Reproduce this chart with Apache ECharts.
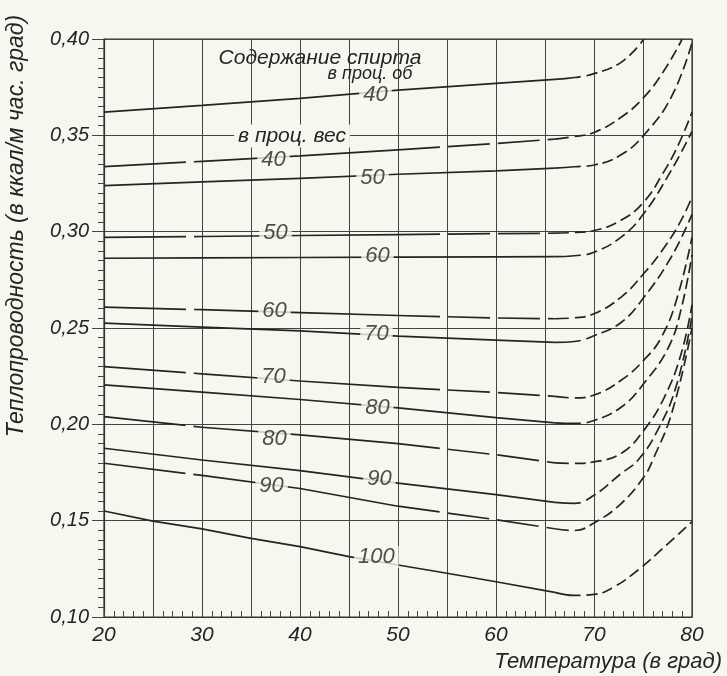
<!DOCTYPE html>
<html><head><meta charset="utf-8">
<script src="https://cdn.jsdelivr.net/npm/echarts@6/dist/echarts.min.js"></script>
<style>html,body{margin:0;padding:0;background:#f8f7ef;} #c{width:727px;height:676px;}</style>
</head><body><div id="c"></div>
<script>
// ---- data (temperature °C, thermal conductivity kcal/m·h·°C) ----
// curves by volume percent
const vol40 = [[20,0.362],[30,0.3655],[40,0.3692],[50,0.3735],[60,0.377],[66,0.379],[68,0.380],[70,0.382],[72.8,0.388],[75.1,0.400]];
const vol50 = [[20,0.3239],[30,0.3258],[40,0.3277],[50,0.3298],[60,0.3316],[66,0.3330],[68,0.3337],[70,0.3346],[72.8,0.340],[75.1,0.3502],[77.9,0.370],[80,0.398]];
const vol60 = [[20,0.2862],[30,0.2864],[40,0.2866],[50,0.2868],[60,0.2869],[66,0.287],[68,0.2875],[70,0.2893],[72.8,0.2973],[75.1,0.3095],[77.9,0.332],[80,0.352]];
const vol70 = [[20,0.2525],[30,0.2505],[40,0.2485],[50,0.2458],[60,0.2437],[66,0.2425],[68,0.243],[70,0.2460],[72.8,0.2530],[75.1,0.266],[77.9,0.287],[80,0.309]];
const vol80 = [[20,0.2205],[30,0.2167],[40,0.2129],[50,0.2085],[60,0.2035],[66,0.2008],[68,0.2005],[70,0.2020],[72.8,0.209],[75.1,0.2213],[77.6,0.240],[78.9,0.26],[80,0.288]];
const vol90 = [[20,0.1876],[30,0.1815],[40,0.176],[50,0.1695],[60,0.1635],[66,0.1595],[68,0.159],[70,0.1632],[72.8,0.1746],[74.5,0.1815],[76.5,0.197],[78.4,0.22],[80,0.256]];
const vol100 = [[20,0.155],[25,0.1498],[30,0.1457],[35,0.1408],[40,0.1365],[45,0.1313],[50,0.127],[55,0.1227],[60,0.1183],[66,0.1128],[68,0.1112],[70,0.1117],[72,0.1155],[74.5,0.1244],[77,0.1355],[80,0.1495]];
// curves by weight percent
const wt40 = [[20,0.3338],[30,0.3365],[40,0.3393],[50,0.3425],[60,0.3458],[66,0.348],[68,0.3494],[70,0.3515],[72.8,0.3595],[75.1,0.3698],[77.2,0.384],[79,0.400]];
const wt50 = [[20,0.297],[30,0.2975],[40,0.298],[50,0.2985],[60,0.299],[66,0.2992],[68,0.2996],[70,0.3006],[72.8,0.306],[75.1,0.3155],[77,0.330],[78.6,0.345],[80,0.362]];
const wt60 = [[20,0.2608],[30,0.2595],[40,0.258],[50,0.2565],[60,0.2552],[66,0.2548],[68,0.2553],[70,0.2574],[72.8,0.2662],[75.1,0.2784],[77.2,0.292],[78.9,0.306],[80,0.318]];
const wt70 = [[20,0.230],[30,0.2262],[40,0.2225],[50,0.2192],[60,0.2165],[66,0.2145],[68,0.2137],[70,0.2152],[72.8,0.223],[75.1,0.2334],[76.9,0.2454],[78.5,0.266],[80,0.297]];
const wt80 = [[20,0.204],[30,0.1985],[40,0.1945],[50,0.190],[60,0.1842],[66,0.1800],[68,0.1797],[70,0.1805],[72.8,0.185],[75.1,0.197],[77.2,0.2143],[78.9,0.2368],[80,0.262]];
const wt90 = [[20,0.1798],[30,0.1735],[40,0.1667],[50,0.1575],[60,0.1505],[66,0.1458],[68,0.1449],[70,0.1488],[72.8,0.159],[75.1,0.1728],[76,0.1815],[78,0.207],[80,0.250]];

// curve labels [temperature, conductivity, text]
const volLabels = [[47.7,0.3709,'40'],[47.4,0.3278,'50'],[47.9,0.2873,'60'],[47.8,0.2469,'70'],[47.9,0.2085,'80'],[48.1,0.1716,'90'],[47.8,0.1311,'100']];
const wtLabels = [[37.3,0.3372,'40'],[37.5,0.2993,'50'],[37.4,0.2588,'60'],[37.3,0.2247,'70'],[37.4,0.1927,'80'],[37.1,0.168,'90']];

const xTickLabels = ['20','30','40','50','60','70','80'];
const yTickLabels = ['0,10','0,15','0,20','0,25','0,30','0,35','0,40'];

const titleText = 'Содержание спирта';
const volText = 'в проц. об';
const wtText = 'в проц. вес';
const yName = 'Теплопроводность (в ккал/м час. град)';
const xName = 'Температура (в град)';

// ---- styling ----
const BG = '#f8f7ef';
const INK = '#242424';
const FONT = '"Liberation Sans", Arial, sans-serif';

function part(pts, a, b) { return pts.filter(p => p[0] >= a && p[0] <= b); }
function lineSeries(data, dash, smooth) {
  return {
    type: 'line', data: data, showSymbol: false, symbol: 'none',
    smooth: smooth, silent: true, z: 3,
    lineStyle: { color: INK, width: 1.7, type: dash }
  };
}
// dash for the rising (right) part: one long dash section then short dashes
function risingDash(first) {
  const d = first.slice();
  for (let i = 0; i < 40; i++) d.push(11, 5);
  return d;
}
const series = [];
[vol40, vol50, vol60, vol70, vol80, vol90, vol100].forEach(c => {
  series.push(lineSeries(part(c, 20, 66), 'solid', false));
  series.push(lineSeries(part(c, 66, 100), risingDash([26, 6]), 0.45));
});
[wt40, wt50, wt60, wt70, wt80, wt90].forEach(c => {
  series.push(lineSeries(part(c, 20, 50), [82, 8, 3000], false));
  series.push(lineSeries(part(c, 50, 66), [42, 8], false));
  series.push(lineSeries(part(c, 66, 100), risingDash([14, 6]), 0.45));
});
const labelStyle = {
  show: true, position: 'inside', formatter: p => p.value[2],
  fontStyle: 'italic', fontSize: 22, fontFamily: FONT, color: INK,
  backgroundColor: BG, padding: [0, 4]
};
series.push({ type: 'scatter', data: volLabels.concat(wtLabels), symbolSize: 1, z: 10, silent: true,
  itemStyle: { color: 'rgba(0,0,0,0)' }, label: labelStyle });

const chart = echarts.init(document.getElementById('c'), null, { renderer: 'canvas' });
chart.setOption({
  animation: false,
  backgroundColor: BG,
  grid: { left: 104, right: 35, top: 39, bottom: 59, show: true, borderColor: '#333', borderWidth: 1.2 },
  xAxis: {
    type: 'value', min: 20, max: 80, interval: 5,
    axisLine: { show: true, lineStyle: { color: '#333', width: 1.2 } },
    axisTick: { show: true, inside: true, length: 6, lineStyle: { color: '#444' } },
    minorTick: { show: true, splitNumber: 5, length: 6, lineStyle: { color: '#444', width: 1 } },
    splitLine: { show: true, lineStyle: { color: '#444', width: 1 } },
    axisLabel: {
      margin: 8, fontSize: 21, fontStyle: 'italic', fontFamily: FONT, color: INK,
      formatter: v => { const s = String(v); return xTickLabels.indexOf(s) >= 0 ? s : ''; }
    }
  },
  yAxis: {
    type: 'value', min: 0.10, max: 0.40, interval: 0.05,
    axisLine: { show: true, lineStyle: { color: '#333', width: 1.2 } },
    axisTick: { show: true, length: 12, lineStyle: { color: '#444' } },
    minorTick: { show: true, splitNumber: 10, length: 6, lineStyle: { color: '#444', width: 1 } },
    splitLine: { show: true, lineStyle: { color: '#444', width: 1 } },
    axisLabel: {
      margin: 15, fontSize: 20, fontStyle: 'italic', fontFamily: FONT, color: INK,
      formatter: v => yTickLabels[Math.round((v - 0.10) / 0.05)] || ''
    }
  },
  graphic: [
    { type: 'text', x: 320, y: 58, z: 20, style: { text: titleText, align: 'center', verticalAlign: 'middle',
      font: 'italic 21px ' + FONT, fill: INK } },
    { type: 'text', x: 370, y: 74, z: 20, style: { text: volText, align: 'center', verticalAlign: 'middle',
      font: 'italic 18px ' + FONT, fill: INK } },
    { type: 'text', x: 292, y: 136, z: 20, style: { text: wtText, align: 'center', verticalAlign: 'middle',
      font: 'italic 21px ' + FONT, fill: INK, backgroundColor: BG, padding: [1, 4] } },
    { type: 'text', x: 17, y: 226, rotation: Math.PI / 2, z: 20, style: { text: yName, align: 'center', verticalAlign: 'middle',
      font: 'italic 23px ' + FONT, fill: INK } },
    { type: 'text', x: 722, y: 662, z: 20, style: { text: xName, align: 'right', verticalAlign: 'middle',
      font: 'italic 22px ' + FONT, fill: INK } }
  ],
  series: series
});
</script></body></html>
